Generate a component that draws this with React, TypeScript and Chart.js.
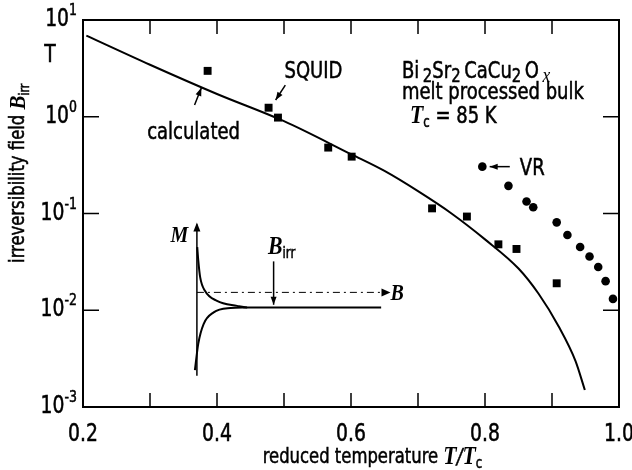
import React, { useEffect, useRef } from 'react';
import { Chart, registerables } from 'chart.js';
Chart.register(...registerables);

// ---- data ----
const curveT = [0.205, 0.30, 0.40, 0.50, 0.60, 0.65, 0.70, 0.75, 0.80, 0.85, 0.88, 0.91, 0.935, 0.949];
const curveB = [6.9, 3.45, 1.72, 0.90, 0.41, 0.275, 0.17, 0.10, 0.054, 0.027, 0.0148, 0.0068, 0.0030, 0.0015];

const squidT = [0.386, 0.477, 0.491, 0.566, 0.601, 0.721, 0.773, 0.820, 0.847, 0.907];
const squidB = [2.98, 1.24, 0.98, 0.48, 0.387, 0.113, 0.093, 0.048, 0.043, 0.019];

const vrT = [0.796, 0.835, 0.862, 0.872, 0.907, 0.923, 0.942, 0.956, 0.969, 0.980, 0.991];
const vrB = [0.305, 0.193, 0.133, 0.116, 0.081, 0.060, 0.045, 0.036, 0.028, 0.020, 0.0131];

// inset schematic (in chart data units)
const insetMAxisT = [0.370, 0.370];
const insetMAxisB = [0.0021, 0.077];
const insetBAxisT = [0.370, 0.650];
const insetBAxisB = [0.0153, 0.0153];
const insetUpperT = [0.3705, 0.372, 0.375, 0.382, 0.400, 0.430, 0.445, 0.645];
const insetUpperB = [0.045, 0.033, 0.0217, 0.0159, 0.0125, 0.0111, 0.0107, 0.0107];
const insetLowerT = [0.367, 0.372, 0.380, 0.395, 0.420, 0.445];
const insetLowerB = [0.0024, 0.0045, 0.0072, 0.0095, 0.01054, 0.0107];

// ticks
const xTickValues = [0.2, 0.3, 0.4, 0.5, 0.6, 0.7, 0.8, 0.9, 1.0];
const xTickLabels = ['0.2', '', '0.4', '', '0.6', '', '0.8', '', '1.0'];
const yTickValues = [0.001, 0.01, 0.1, 1, 10];
const yTickExponents = ['-3', '-2', '-1', '0', '1'];

// annotation anchors (data units)
const arrowSquid = [[0.502, 2.12], [0.4875, 1.49]];
const arrowCalc = [[0.3665, 1.32], [0.3767, 1.99]];
const arrowVR = [[0.837, 0.305], [0.807, 0.305]];
const arrowBirr = [[0.4845, 0.032], [0.4845, 0.0114]];
const labelSquid = [0.544, 2.91];
const labelCalc = [0.365, 0.673];
const labelFormula = [0.676, 2.91];
const labelMelt = [0.676, 1.74];
const labelTc = [0.688, 1.0];
const labelVR = [0.852, 0.29];
const labelM = [0.344, 0.058];
const labelB = [0.659, 0.0148];
const labelBirr = [0.4965, 0.044];

const SANS = '"DejaVu Sans Condensed", "Liberation Sans", sans-serif';
const SERIF = '"Liberation Serif", "DejaVu Serif", serif';
const sans = (s: number) => `${s}px ${SANS}`;
const serifBI = (s: number) => `italic bold ${s}px ${SERIF}`;
const SX = 0.87;
const THIN = '\u2009';

type Part = { t: string; f: string; dy?: number; serif?: boolean };

function drawRich(ctx: CanvasRenderingContext2D, parts: Part[], x: number, y: number, align: 'left' | 'center' | 'right') {
  ctx.textBaseline = 'middle';
  ctx.textAlign = 'left';
  let w = 0;
  parts.forEach(p => { ctx.font = p.f; w += ctx.measureText(p.t).width; });
  w *= SX;
  const sx0 = align === 'left' ? x : align === 'center' ? x - w / 2 : x - w;
  ctx.save();
  ctx.translate(sx0, y);
  ctx.scale(SX, 1);
  ctx.lineWidth = 0.5;
  let cx = 0;
  parts.forEach(p => {
    ctx.font = p.f;
    ctx.fillText(p.t, cx, p.dy || 0);
    if (!p.serif) ctx.strokeText(p.t, cx, p.dy || 0);
    cx += ctx.measureText(p.t).width;
  });
  ctx.restore();
}

function arrowHead(ctx: CanvasRenderingContext2D, x1: number, y1: number, x2: number, y2: number, len = 9, half = 3.5) {
  const a = Math.atan2(y2 - y1, x2 - x1);
  ctx.beginPath();
  ctx.moveTo(x2, y2);
  ctx.lineTo(x2 - len * Math.cos(a) + half * Math.sin(a), y2 - len * Math.sin(a) - half * Math.cos(a));
  ctx.lineTo(x2 - len * Math.cos(a) - half * Math.sin(a), y2 - len * Math.sin(a) + half * Math.cos(a));
  ctx.closePath();
  ctx.fill();
}

const decorPlugin = {
  id: 'decor',
  beforeDraw(chart: any) {
    const { ctx, width, height } = chart;
    ctx.save();
    ctx.fillStyle = '#fff';
    ctx.fillRect(0, 0, width, height);
    ctx.restore();
  },
  afterDatasetsDraw(chart: any) {
    const ctx: CanvasRenderingContext2D = chart.ctx;
    const xs = chart.scales.x;
    const ys = chart.scales.y;
    const { left, right, top, bottom } = chart.chartArea;
    const px = (v: number) => xs.getPixelForValue(v);
    const py = (v: number) => ys.getPixelForValue(v);
    ctx.save();
    ctx.strokeStyle = '#000';
    ctx.fillStyle = '#000';

    // frame
    ctx.lineWidth = 2;
    ctx.strokeRect(left, top, right - left, bottom - top);

    // ticks
    ctx.lineWidth = 1.5;
    ctx.beginPath();
    xTickValues.forEach(v => {
      const x = px(v);
      ctx.moveTo(x, bottom); ctx.lineTo(x, bottom - 14);
      ctx.moveTo(x, top); ctx.lineTo(x, top + 14);
    });
    yTickValues.forEach(v => {
      const y = py(v);
      ctx.moveTo(left, y); ctx.lineTo(left + 16, y);
      ctx.moveTo(right, y); ctx.lineTo(right - 16, y);
    });
    ctx.stroke();

    // x tick labels
    xTickValues.forEach((v, i) => {
      if (!xTickLabels[i]) return;
      drawRich(ctx, [{ t: xTickLabels[i], f: sans(24) }], px(v), bottom + 28, 'center');
    });
    // y tick labels
    yTickValues.forEach((v, i) => {
      drawRich(ctx, [
        { t: '10', f: sans(24) },
        { t: yTickExponents[i], f: sans(16), dy: -9 },
      ], left - 6, py(v), 'right');
    });
    drawRich(ctx, [{ t: 'T', f: sans(24) }], left - 33, py(4.3), 'center');

    // axis titles
    drawRich(ctx, [
      { t: 'reduced temperature ', f: sans(21) },
      { t: 'T', f: serifBI(25), serif: true },
      { t: '/', f: `italic ${sans(22)}` },
      { t: 'T', f: serifBI(25), serif: true },
      { t: 'c', f: sans(15), dy: 6 },
    ], px(0.632), bottom + 51, 'center');
    ctx.save();
    ctx.translate(left - 64, py(0.26));
    ctx.rotate(-Math.PI / 2);
    drawRich(ctx, [
      { t: 'irreversibility field ', f: sans(21) },
      { t: 'B', f: serifBI(24), serif: true },
      { t: 'irr', f: sans(14), dy: 6 },
    ], 0, 0, 'center');
    ctx.restore();

    // annotations
    drawRich(ctx, [{ t: 'SQUID', f: sans(23) }], px(labelSquid[0]), py(labelSquid[1]), 'center');
    drawRich(ctx, [{ t: 'calculated', f: sans(23) }], px(labelCalc[0]), py(labelCalc[1]), 'center');
    drawRich(ctx, [
      { t: 'Bi' + THIN, f: sans(23) }, { t: '2', f: sans(19), dy: 5 },
      { t: 'Sr', f: sans(23) }, { t: '2', f: sans(19), dy: 5 },
      { t: THIN + 'CaCu', f: sans(23) }, { t: '2', f: sans(19), dy: 5 },
      { t: THIN + 'O', f: sans(23) }, { t: THIN + 'x', f: `italic 20px ${SERIF}`, dy: 5, serif: true },
    ], px(labelFormula[0]), py(labelFormula[1]), 'left');
    drawRich(ctx, [{ t: 'melt processed bulk', f: sans(23) }], px(labelMelt[0]), py(labelMelt[1]), 'left');
    drawRich(ctx, [
      { t: 'T', f: serifBI(25), serif: true }, { t: 'c', f: sans(15), dy: 6 },
      { t: ' = 85 K', f: sans(23) },
    ], px(labelTc[0]), py(labelTc[1]), 'left');
    drawRich(ctx, [{ t: 'VR', f: sans(23) }], px(labelVR[0]), py(labelVR[1]), 'left');
    drawRich(ctx, [{ t: 'M', f: serifBI(23), serif: true }], px(labelM[0]), py(labelM[1]), 'center');
    drawRich(ctx, [{ t: 'B', f: serifBI(23), serif: true }], px(labelB[0]), py(labelB[1]), 'left');
    drawRich(ctx, [
      { t: 'B', f: serifBI(25), serif: true }, { t: 'irr', f: sans(15), dy: 6 },
    ], px(labelBirr[0]), py(labelBirr[1]), 'center');

    // arrows
    ctx.lineWidth = 1.5;
    [arrowSquid, arrowCalc, arrowVR, arrowBirr].forEach(a => {
      const x1 = px(a[0][0]), y1 = py(a[0][1]), x2 = px(a[1][0]), y2 = py(a[1][1]);
      ctx.beginPath(); ctx.moveTo(x1, y1); ctx.lineTo(x2, y2); ctx.stroke();
      arrowHead(ctx, x1, y1, x2, y2, 8, 3);
    });
    // inset axis arrow heads
    arrowHead(ctx, px(insetMAxisT[0]), py(insetMAxisB[0]), px(insetMAxisT[1]), py(insetMAxisB[1]) - 2, 9, 3.5);
    arrowHead(ctx, px(insetBAxisT[0]), py(insetBAxisB[0]), px(insetBAxisT[1]) + 6, py(insetBAxisB[1]), 9, 4);

    ctx.restore();
  },
};

const pts = (xs: number[], ys: number[]) => xs.map((x, i) => ({ x, y: ys[i] }));

export default function App() {
  const ref = useRef<HTMLCanvasElement>(null);
  useEffect(() => {
    if (!ref.current) return;
    const lineBase = { type: 'line' as const, pointRadius: 0, borderColor: '#000', fill: false, showLine: true };
    const chart = new Chart(ref.current, {
      type: 'scatter',
      data: {
        datasets: [
          { ...lineBase, label: 'calculated', data: pts(curveT, curveB), borderWidth: 2, cubicInterpolationMode: 'monotone' },
          { type: 'scatter', label: 'SQUID', data: pts(squidT, squidB), pointStyle: 'rect', pointRadius: 5.6, backgroundColor: '#000', borderWidth: 0 },
          { type: 'scatter', label: 'VR', data: pts(vrT, vrB), pointStyle: 'circle', pointRadius: 4.3, backgroundColor: '#000', borderWidth: 0 },
          { ...lineBase, label: 'inset M axis', data: pts(insetMAxisT, insetMAxisB), borderWidth: 1.5 },
          { ...lineBase, label: 'inset B axis', data: pts(insetBAxisT, insetBAxisB), borderWidth: 1, borderDash: [7, 4, 2, 4] },
          { ...lineBase, label: 'inset upper', data: pts(insetUpperT, insetUpperB), borderWidth: 2, cubicInterpolationMode: 'monotone' },
          { ...lineBase, label: 'inset lower', data: pts(insetLowerT, insetLowerB), borderWidth: 2, cubicInterpolationMode: 'monotone' },
        ] as any,
      },
      options: {
        animation: false,
        responsive: false,
        devicePixelRatio: 1,
        layout: { padding: { left: 83, top: 20, right: 13, bottom: 63 } },
        plugins: { legend: { display: false }, tooltip: { enabled: false } },
        scales: {
          x: { type: 'linear', min: 0.2, max: 1.0, display: false },
          y: { type: 'logarithmic', min: 0.001, max: 10, display: false },
        },
      },
      plugins: [decorPlugin],
    });
    return () => chart.destroy();
  }, []);
  return (
    <div style={{ position: 'absolute', left: 0, top: 0, width: 632, height: 470 }}>
      <canvas ref={ref} width={632} height={470} style={{ width: 632, height: 470 }} />
    </div>
  );
}
